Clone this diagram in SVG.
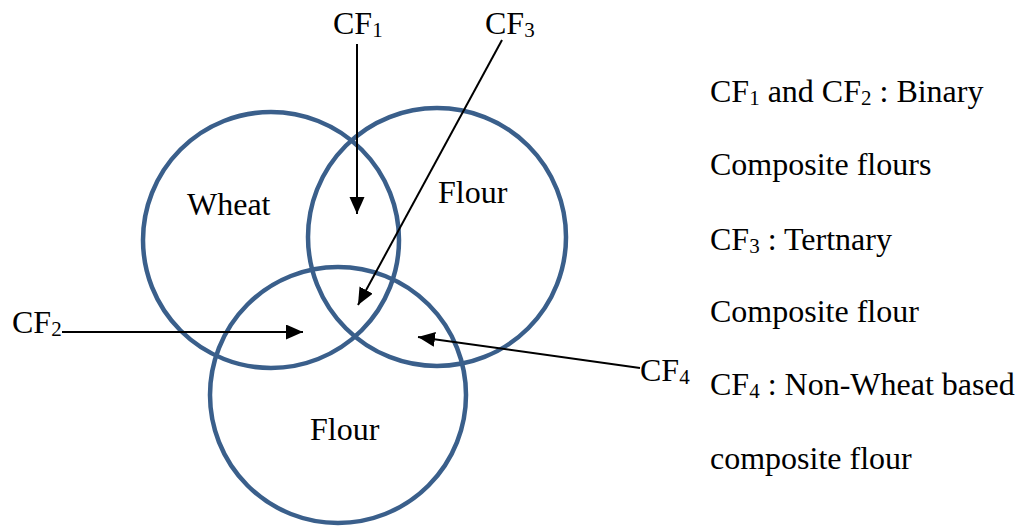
<svg xmlns="http://www.w3.org/2000/svg" width="1020" height="529" viewBox="0 0 1020 529">
<style>
text{font-family:"Liberation Serif","Times New Roman",serif;font-size:32px;fill:#000}
.sub{font-size:21px}
.circ{fill:none;stroke:#3A5F8B;stroke-width:4.5}
.con{stroke:#000;stroke-width:2;fill:none;marker-end:url(#ah)}
</style>
<defs>
<marker id="ah" markerUnits="userSpaceOnUse" markerWidth="18" markerHeight="16" refX="17" refY="7.5" orient="auto">
<path d="M0,0 L17,7.5 L0,15 z" fill="#000"/>
</marker>
</defs>
<rect width="1020" height="529" fill="#fff"/>
<g id="wheat">
<circle class="circ" cx="271" cy="240" r="128"/>
<text x="187" y="215">Wheat</text>
</g>
<g id="flour1">
<circle class="circ" cx="437" cy="237" r="129"/>
<text x="438" y="203">Flour</text>
</g>
<g id="flour2">
<circle class="circ" cx="338" cy="395" r="128"/>
<text x="310" y="440">Flour</text>
</g>
<g id="connectors">
<line class="con" x1="357" y1="44" x2="357" y2="214"/>
<line class="con" x1="502" y1="40" x2="358" y2="305"/>
<line class="con" x1="62" y1="332" x2="303" y2="332"/>
<line class="con" x1="640" y1="368" x2="418" y2="337"/>
</g>
<g id="cf1"><text x="333" y="34">CF<tspan class="sub" dy="3">1</tspan></text></g>
<g id="cf3"><text x="485" y="34">CF<tspan class="sub" dy="3">3</tspan></text></g>
<g id="cf2"><text x="12" y="333">CF<tspan class="sub" dy="3">2</tspan></text></g>
<g id="cf4"><text x="640" y="381">CF<tspan class="sub" dy="3">4</tspan></text></g>
<g id="legend">
<text x="710" y="102">CF<tspan class="sub" dy="3">1</tspan><tspan dy="-3"> and CF</tspan><tspan class="sub" dy="3">2</tspan><tspan dy="-3"> : Binary</tspan></text>
<text x="710" y="175">Composite flours</text>
<text x="710" y="250">CF<tspan class="sub" dy="3">3</tspan><tspan dy="-3"> : Tertnary</tspan></text>
<text x="710" y="322">Composite flour</text>
<text x="710" y="395">CF<tspan class="sub" dy="3">4</tspan><tspan dy="-3"> : Non-Wheat based</tspan></text>
<text x="710" y="469">composite flour</text>
</g>
</svg>
